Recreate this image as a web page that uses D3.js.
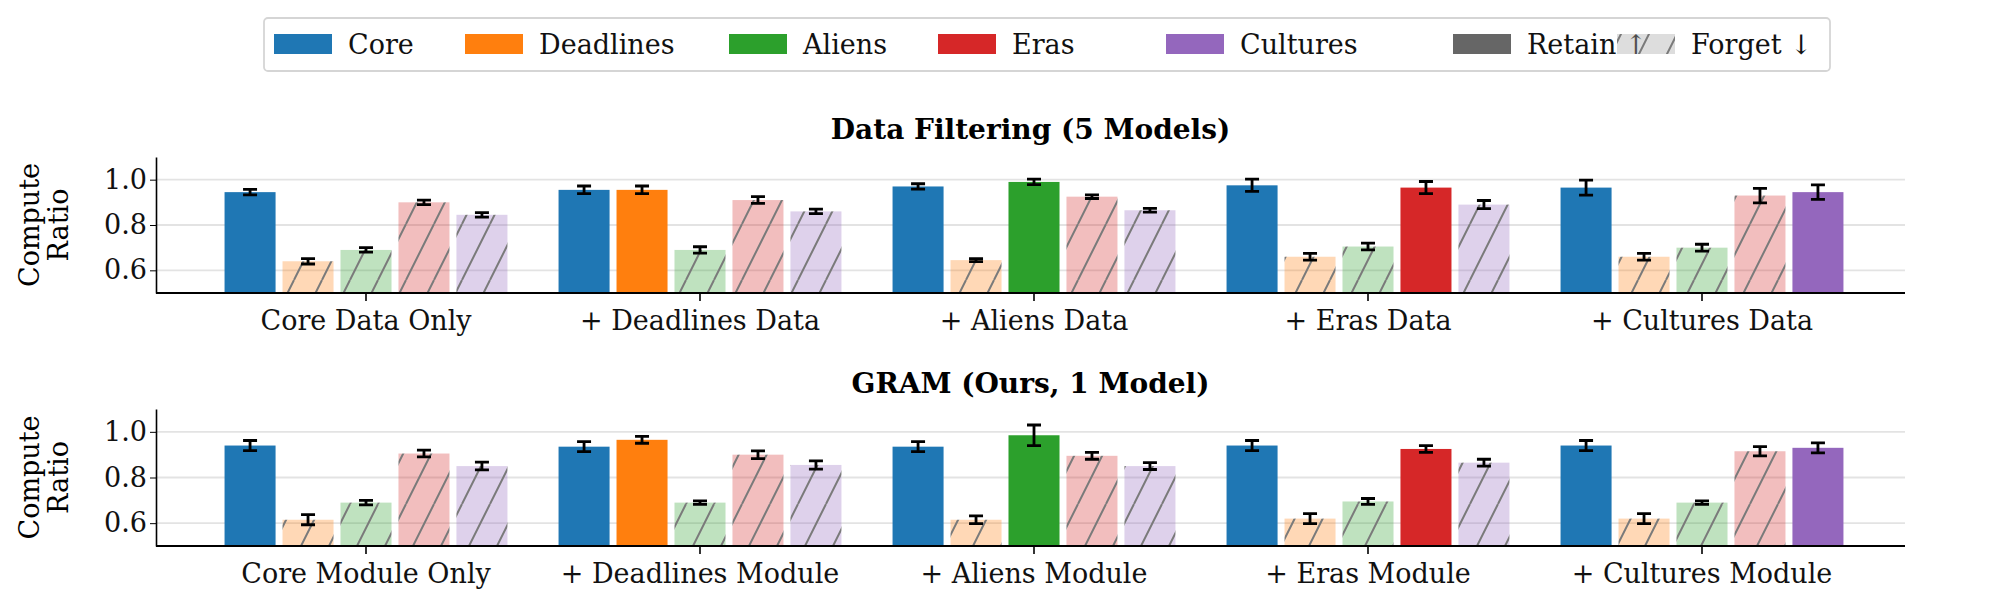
<!DOCTYPE html><html><head><meta charset="utf-8">
<script src="https://cdn.jsdelivr.net/npm/d3@7"></script>
<style>body{margin:0;background:#fff}text{font-family:"DejaVu Serif",serif}</style></head><body>
<svg id="c" width="1999" height="614"></svg>
<script>
const series=["Core","Deadlines","Aliens","Eras","Cultures"];
const colors=["#1f77b4","#ff7f0e","#2ca02c","#d62728","#9467bd"];
const groupsTop=["Core Data Only","+ Deadlines Data","+ Aliens Data","+ Eras Data","+ Cultures Data"];
const groupsBot=["Core Module Only","+ Deadlines Module","+ Aliens Module","+ Eras Module","+ Cultures Module"];
const yTicks=[0.6,0.8,1.0];
const topVals=[[0.945,0.64,0.69,0.90,0.845],[0.955,0.955,0.69,0.91,0.86],[0.97,0.645,0.99,0.925,0.865],[0.975,0.66,0.705,0.965,0.89],[0.965,0.66,0.70,0.93,0.945]];
const topErr=[[0.012,0.012,0.01,0.01,0.01],[0.017,0.017,0.014,0.015,0.01],[0.012,0.007,0.012,0.008,0.008],[0.027,0.015,0.015,0.027,0.018],[0.033,0.015,0.015,0.032,0.032]];
const botVals=[[0.94,0.615,0.69,0.905,0.85],[0.935,0.965,0.69,0.90,0.855],[0.935,0.615,0.985,0.895,0.85],[0.94,0.62,0.695,0.925,0.865],[0.94,0.62,0.69,0.915,0.93]];
const botErr=[[0.022,0.022,0.01,0.015,0.017],[0.022,0.015,0.008,0.017,0.018],[0.022,0.017,0.045,0.015,0.015],[0.022,0.022,0.013,0.015,0.015],[0.022,0.022,0.008,0.02,0.022]];
const svg=d3.select("#c");
const defs=svg.append("defs");
function hatch(id,fill,op){
  const p=defs.append("pattern").attr("id",id).attr("patternUnits","userSpaceOnUse").attr("width",28).attr("height",56);
  p.append("rect").attr("width",28).attr("height",56).attr("fill",fill).attr("fill-opacity",op);
  p.append("path").attr("d","M-14,56 L14,0 M14,56 L42,0").attr("stroke","#7a7a7a").attr("stroke-width",2);
}
colors.forEach((c,i)=>hatch("h"+i,c,0.3));
hatch("hl","#aaa",0.4);

const L=156,R=1905;
const x=d3.scaleBand().domain(d3.range(5)).range([199,1869]).paddingInner(0.153).paddingOuter(0.0765);
const xs=d3.scaleBand().domain(d3.range(5)).range([0,x.bandwidth()]).paddingInner(0.12);
function panel(top,bottom,title,groups,vals,errs,toff){
  const y=d3.scaleLinear().domain([0.5,1.1]).range([bottom,top]);
  const g=svg.append("g");
  g.selectAll(".gl").data(yTicks).join("line").attr("x1",L).attr("x2",R).attr("y1",d=>y(d)).attr("y2",d=>y(d)).attr("stroke","#e3e3e3").attr("stroke-width",1.8);
  groups.forEach((gn,gi)=>{
    vals[gi].forEach((v,si)=>{
      const retain=si===0||si===gi;
      const bx=x(gi)+xs(si);
      g.append("rect").attr("x",bx).attr("y",y(v)).attr("width",xs.bandwidth()).attr("height",y(0.5)-y(v))
        .attr("fill",retain?colors[si]:`url(#h${si})`);
      const e=errs[gi][si],cx=bx+xs.bandwidth()/2;
      g.append("path").attr("d",`M${cx},${y(v-e)}V${y(v+e)}M${cx-7},${y(v-e)}H${cx+7}M${cx-7},${y(v+e)}H${cx+7}`).attr("stroke","#000").attr("stroke-width",2.8).attr("fill","none");
    });
  });
  const ax=g.append("g").attr("transform",`translate(0,${bottom})`).call(d3.axisBottom(x).tickFormat(i=>groups[i]).tickSize(8).tickSizeOuter(0));
  g.append("line").attr("x1",L).attr("x2",R).attr("y1",bottom).attr("y2",bottom).attr("stroke","#000").attr("stroke-width",2.2);
  ax.select(".domain").remove();
  ax.selectAll("text").attr("font-size",27).attr("fill","#111").attr("dy","0.95em");
  ax.selectAll(".tick line").attr("stroke-width",1.6);
  const ay=g.append("g").attr("transform",`translate(${L},0)`).call(d3.axisLeft(y).tickValues(yTicks).tickFormat(d3.format(".1f")).tickSize(6).tickSizeOuter(0));
  ay.select(".domain").attr("stroke-width",1.6);
  ay.selectAll("text").attr("font-size",27).attr("fill","#111");
  const my=(top+bottom)/2;
  const yl=g.append("text").attr("transform",`translate(48,${my}) rotate(-90)`).attr("text-anchor","middle").attr("font-size",27);
  yl.append("tspan").attr("x",0).attr("dy","-0.35em").text("Compute");
  yl.append("tspan").attr("x",0).attr("dy","1.1em").text("Ratio");
  g.append("text").attr("x",(L+R)/2).attr("y",top-toff).attr("text-anchor","middle").attr("font-size",28).attr("font-weight","bold").text(title);
}
panel(157,293,"Data Filtering (5 Models)",groupsTop,topVals,topErr,18);
panel(409,546,"GRAM (Ours, 1 Model)",groupsBot,botVals,botErr,16);
const lg=svg.append("g");
lg.append("rect").attr("x",264).attr("y",18).attr("width",1566).attr("height",53).attr("rx",4).attr("fill","#fff").attr("stroke","#d5d5d5").attr("stroke-width",1.8);
const items=series.map((s,i)=>({t:s,f:colors[i]})).concat([{t:"Retain ↑",f:"#666"},{t:"Forget ↓",f:"url(#hl)"}]);
const lx=[274,465,729,938,1166,1453,1617];
items.forEach((it,i)=>{
  lg.append("rect").attr("x",lx[i]).attr("y",34).attr("width",58).attr("height",20).attr("fill",it.f);
  lg.append("text").attr("x",lx[i]+74).attr("y",54).attr("font-size",27).attr("fill","#111").text(it.t);
});
</script></body></html>
